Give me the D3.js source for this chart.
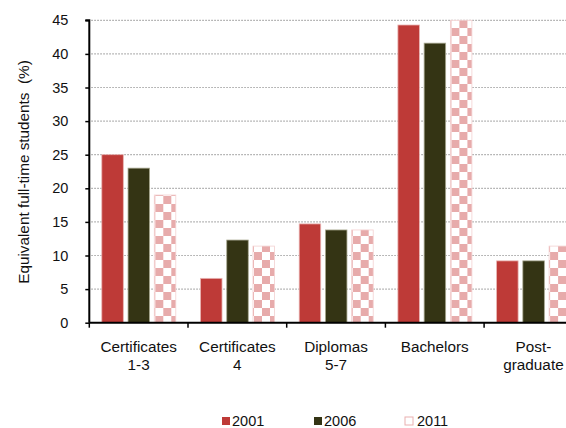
<!DOCTYPE html>
<html>
<head>
<meta charset="utf-8">
<script src="https://cdn.jsdelivr.net/npm/d3@7"></script>
<style>
  body { margin: 0; background: #fff; }
  svg { display: block; font-family: "Liberation Sans", Arial, sans-serif; }
</style>
</head>
<body>
<svg id="chart" width="566" height="428"></svg>
<script>
// Share of equivalent full-time students by qualification level
const categories = [["Certificates", "1-3"], ["Certificates", "4"], ["Diplomas", "5-7"], ["Bachelors"], ["Post-", "graduate"]];
const years = ["2001", "2006", "2011"];
const values2001 = [25.0, 6.6, 14.7, 44.3, 9.2];
const values2006 = [23.0, 12.3, 13.8, 41.6, 9.2];
const values2011 = [19.0, 11.4, 13.8, 45.0, 11.4];
const yTicks = [0, 5, 10, 15, 20, 25, 30, 35, 40, 45];

const seriesValues = [values2001, values2006, values2011];
const svg = d3.select("#chart");

const plotLeft = 89.3, plotTop = 20.3, plotBottom = 322.7, catStep = 98.7;
const catKeys = categories.map((c, i) => i);

const x0 = d3.scaleBand().domain(catKeys).range([plotLeft, plotLeft + catStep * categories.length]).padding(0);
const x1 = d3.scaleBand().domain(years).range([12.5, 86.5]).paddingInner(0.18).paddingOuter(0);
const y = d3.scaleLinear().domain([0, 45]).range([plotBottom, plotTop]);

// checkerboard fill for the latest year
const defs = svg.append("defs");
const pat = defs.append("pattern").attr("id", "checker")
  .attr("patternUnits", "userSpaceOnUse").attr("width", 16).attr("height", 16)
  .attr("x", 154).attr("y", 4);
pat.append("rect").attr("width", 16).attr("height", 16).attr("fill", "#fff");
pat.append("rect").attr("x", 0).attr("y", 0).attr("width", 8).attr("height", 8).attr("fill", "#e7abab");
pat.append("rect").attr("x", 8).attr("y", 8).attr("width", 8).attr("height", 8).attr("fill", "#e7abab");

const fills = ["#be3a37", "#343414", "url(#checker)"];
const strokes = ["#e9b5b3", "#a8a890", "#f3d0d0"];

// dotted gridlines
svg.append("g").selectAll("line").data(yTicks.filter(t => t > 0)).join("line")
  .attr("x1", plotLeft + 2).attr("x2", 566)
  .attr("y1", d => y(d)).attr("y2", d => y(d))
  .attr("stroke", "#a3a3a3").attr("stroke-width", 1.2)
  .attr("stroke-dasharray", "1.5,1.5");

// bars
const rows = catKeys.map(i => years.map((yr, s) => ({ cat: i, year: yr, s, v: seriesValues[s][i] })));
svg.append("g").selectAll("g").data(rows).join("g")
  .attr("transform", (d, i) => `translate(${x0(i)},0)`)
  .selectAll("rect").data(d => d).join("rect")
  .attr("x", d => x1(d.year))
  .attr("width", x1.bandwidth())
  .attr("y", d => y(d.v))
  .attr("height", d => y(0) - y(d.v))
  .attr("fill", d => fills[d.s])
  .attr("stroke", d => strokes[d.s])
  .attr("stroke-width", 0.8);

// y axis
const yAxis = svg.append("g").attr("transform", `translate(${plotLeft},0)`)
  .call(d3.axisLeft(y).tickValues(yTicks).tickSize(4).tickPadding(17).tickFormat(d3.format("d")));
yAxis.select(".domain").attr("stroke", "#000").attr("stroke-width", 2).attr("d", `M-4,${plotTop}H0V${plotBottom}`);
yAxis.selectAll(".tick line").attr("stroke", "#000").attr("stroke-width", 1.5);
yAxis.selectAll(".tick text").attr("font-size", 14.5).attr("fill", "#111");

// x axis
const xAxis = svg.append("g").attr("transform", `translate(0,${plotBottom})`)
  .call(d3.axisBottom(x0).tickSize(0).tickFormat(""));
xAxis.select(".domain").attr("stroke", "#000").attr("stroke-width", 2).attr("d", `M${plotLeft},0H566`);
xAxis.selectAll(".tick line").remove();
const boundaries = d3.range(categories.length + 1).map(i => plotLeft + catStep * i);
xAxis.append("g").selectAll("line").data(boundaries).join("line")
  .attr("x1", d => d).attr("x2", d => d).attr("y1", 0).attr("y2", 5)
  .attr("stroke", "#000").attr("stroke-width", 1.5);

// category labels
const labels = svg.append("g").attr("font-size", 15.3).attr("fill", "#111").attr("text-anchor", "middle");
categories.forEach((lines, i) => {
  const cx = x0(i) + x0.bandwidth() / 2;
  const t = labels.append("text").attr("x", cx).attr("y", 352);
  lines.forEach((ln, k) => t.append("tspan").attr("x", cx).attr("dy", k === 0 ? 0 : 18).text(ln));
});

// y axis title
svg.append("text")
  .attr("transform", "translate(29,172) rotate(-90)")
  .attr("text-anchor", "middle").attr("font-size", 15.3).attr("fill", "#111")
  .text("Equivalent full-time students\u00a0 (%)");

// legend
const legendX = [222, 314, 405];
const lg = svg.append("g");
years.forEach((yr, s) => {
  lg.append("rect").attr("x", legendX[s]).attr("y", 417).attr("width", 8).attr("height", 8)
    .attr("fill", s === 2 ? "#fff" : fills[s])
    .attr("stroke", s === 2 ? "#eab0b0" : "none").attr("stroke-width", 1);
  lg.append("text").attr("x", legendX[s] + (s === 2 ? 12 : 10)).attr("y", 425.5)
    .attr("font-size", 14.5).attr("fill", "#111").text(yr);
});
</script>
</body>
</html>
